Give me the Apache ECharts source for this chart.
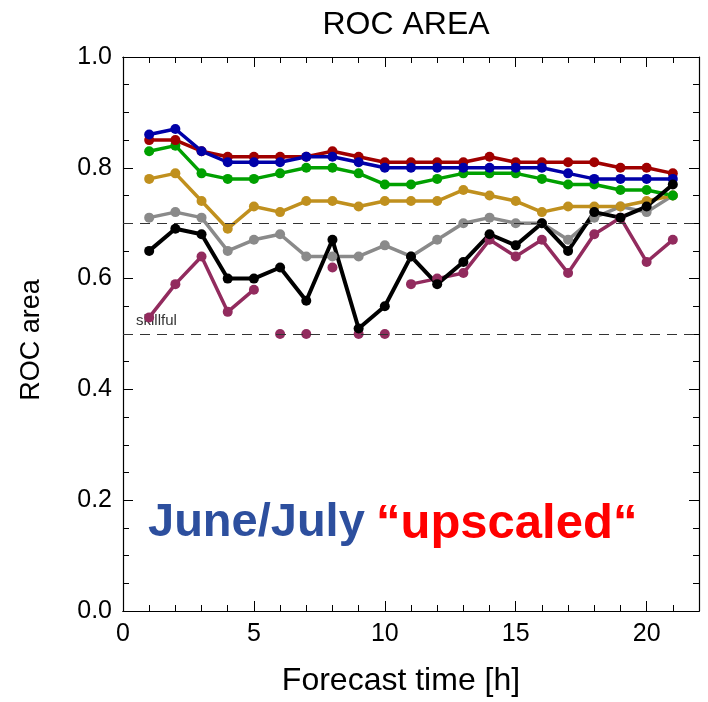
<!DOCTYPE html>
<html>
<head>
<meta charset="utf-8">
<script src="https://cdn.jsdelivr.net/npm/echarts@6/dist/echarts.min.js"></script>
<style>html,body{margin:0;padding:0;background:#fff}#c{width:708px;height:702px}</style>
</head>
<body>
<div id="c"></div>
<script>
const forecastHours = [1,2,3,4,5,6,7,8,9,10,11,12,13,14,15,16,17,18,19,20,21];
const redValues    = [0.85,0.85,0.83,0.82,0.82,0.82,0.82,0.83,0.82,0.81,0.81,0.81,0.81,0.82,0.81,0.81,0.81,0.81,0.80,0.80,0.79];
const blueValues   = [0.86,0.87,0.83,0.81,0.81,0.81,0.82,0.82,0.81,0.80,0.80,0.80,0.80,0.80,0.80,0.80,0.79,0.78,0.78,0.78,0.78];
const greenValues  = [0.83,0.84,0.79,0.78,0.78,0.79,0.80,0.80,0.79,0.77,0.77,0.78,0.79,0.79,0.79,0.78,0.77,0.77,0.76,0.76,0.75];
const goldValues   = [0.78,0.79,0.74,0.69,0.73,0.72,0.74,0.74,0.73,0.74,0.74,0.74,0.76,0.75,0.74,0.72,0.73,0.73,0.73,0.74,0.75];
const grayValues   = [0.71,0.72,0.71,0.65,0.67,0.68,0.64,0.64,0.64,0.66,0.64,0.67,0.70,0.71,0.70,0.70,0.67,0.71,0.73,0.72,0.75];
const blackValues  = [0.65,0.69,0.68,0.60,0.60,0.62,0.56,0.67,0.51,0.55,0.64,0.59,0.63,0.68,0.66,0.70,0.65,0.72,0.71,0.73,0.77];
const purpleValues = [0.53,0.59,0.64,0.54,0.58,null,null,0.62,null,null,0.59,0.60,0.61,0.67,0.64,0.67,0.61,0.68,0.71,0.63,0.67];
const purpleFloorValues = [null,null,null,null,null,0.50,0.50,null,0.50,0.50,null,null,null,null,null,null,null,null,null,null,null];
const referenceLines = [0.7, 0.5];
const xTickLabels = [0,5,10,15,20];
const yTickLabels = ['0.0','0.2','0.4','0.6','0.8','1.0'];

const pairs = v => forecastHours.map((h,i) => [h, v[i]]);
const chart = echarts.init(document.getElementById('c'), null, {renderer:'canvas'});
const FONT = 'Liberation Sans';
const lineSeries = (name, vals, color, width) => ({
  name, type:'line', data: pairs(vals), xAxisIndex:0, yAxisIndex:0,
  symbol:'circle', symbolSize:10, showAllSymbol:true, connectNulls:false,
  lineStyle:{color, width}, itemStyle:{color, opacity:1}
});
const baseX = {
  type:'value', min:0, max:22, splitLine:{show:false},
  axisLine:{show:true, onZero:false, lineStyle:{color:'#000', width:1.2}}
};
const option = {
  animation:false,
  backgroundColor:'#fff',
  title:{text:'ROC AREA', left:401, top:4, textAlign:'center',
    textStyle:{fontFamily:FONT, fontSize:32, fontWeight:'normal', color:'#000'}},
  grid:{left:123, right:9, top:57, bottom:89},
  xAxis:[
    Object.assign({}, baseX, {position:'bottom', interval:5,
      axisTick:{show:true, inside:true, length:10, lineStyle:{color:'#000'}},
      axisLabel:{show:true, margin:11, fontFamily:FONT, fontSize:25, color:'#000',
        formatter: v => xTickLabels.includes(v) ? String(v) : ''},
      name:'Forecast time [h]', nameLocation:'middle', nameGap:54,
      nameTextStyle:{fontFamily:FONT, fontSize:32, color:'#000', padding:[0,20,0,0]}}),
    Object.assign({}, baseX, {position:'bottom', interval:1,
      axisTick:{show:true, inside:true, length:6, lineStyle:{color:'#000'}},
      axisLabel:{show:false}}),
    Object.assign({}, baseX, {position:'top', interval:5,
      axisTick:{show:true, inside:true, length:10, lineStyle:{color:'#000'}},
      axisLabel:{show:false}}),
    Object.assign({}, baseX, {position:'top', interval:1,
      axisTick:{show:true, inside:true, length:6, lineStyle:{color:'#000'}},
      axisLabel:{show:false}})
  ],
  yAxis:[
    {type:'value', min:0, max:1, interval:0.2, position:'left', splitLine:{show:false},
      axisLine:{show:true, onZero:false, lineStyle:{color:'#000', width:1.2}},
      axisTick:{show:true, inside:true, length:10, lineStyle:{color:'#000'}},
      minorTick:{show:true, splitNumber:4, length:6, lineStyle:{color:'#000'}},
      axisLabel:{margin:11, fontFamily:FONT, fontSize:25, color:'#000',
        formatter: v => yTickLabels[Math.round(v*5)]},
      name:'ROC area', nameLocation:'middle', nameGap:78, nameRotate:90,
      nameTextStyle:{fontFamily:FONT, fontSize:27, color:'#000', padding:[0,12,0,0]}},
    {type:'value', min:0, max:1, interval:0.2, position:'right', splitLine:{show:false},
      axisLine:{show:true, onZero:false, lineStyle:{color:'#000', width:1.2}},
      axisTick:{show:true, inside:true, length:10, lineStyle:{color:'#000'}},
      minorTick:{show:true, splitNumber:4, length:6, lineStyle:{color:'#000'}},
      axisLabel:{show:false}}
  ],
  series:[
    {type:'scatter', name:'floor', data: pairs(purpleFloorValues), symbol:'circle', symbolSize:10,
      itemStyle:{color:'#922b5e', opacity:1},
      markLine:{silent:true, symbol:'none', label:{show:false},
        lineStyle:{color:'#333', width:1.2, type:[10,7]},
        data: referenceLines.map(v => ({yAxis:v}))}},
    lineSeries('purple', purpleValues, '#922b5e', 3.5),
    lineSeries('gray', grayValues, '#8a8a8a', 3.5),
    lineSeries('gold', goldValues, '#c0901e', 3.5),
    lineSeries('green', greenValues, '#00a000', 3.5),
    lineSeries('red', redValues, '#a00000', 3.5),
    lineSeries('blue', blueValues, '#0000a8', 3.5),
    lineSeries('black', blackValues, '#000000', 4)
  ],
  graphic:[
    {type:'text', left:136, top:313, style:{text:'skillful', fontFamily:FONT, fontSize:15, fill:'#333'}},
    {type:'text', left:148, top:500, style:{text:'June/July',
      fontFamily:FONT, fontSize:47, fontWeight:'bold', fill:'#2d4f9e'}},
    {type:'text', left:376, top:500, style:{text:'\u201cupscaled\u201c',
      fontFamily:FONT, fontSize:49, fontWeight:'bold', fill:'#ff0000'}}
  ]
};
chart.setOption(option);
</script>
</body>
</html>
